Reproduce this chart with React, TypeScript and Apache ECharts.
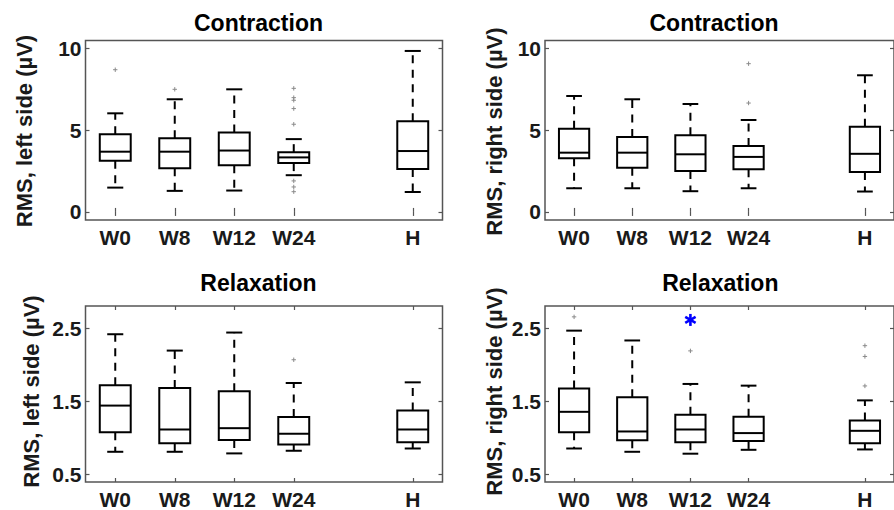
import React, { useEffect, useRef } from "react";
import * as echarts from "echarts";

// ---- data ----
const categories = ["W0", "W8", "W12", "W24", "H"];
const positions = [1, 2, 3, 4, 6];

// [lower whisker, Q1, median, Q3, upper whisker]
const contractionLeft = [
  [1.49, 3.14, 3.69, 4.76, 6.04],
  [1.29, 2.67, 3.69, 4.51, 6.9],
  [1.31, 2.86, 3.76, 4.86, 7.51],
  [2.25, 2.99, 3.34, 3.66, 4.46],
  [1.22, 2.63, 3.73, 5.55, 9.86],
];
const contractionRight = [
  [1.45, 3.29, 3.63, 5.1, 7.1],
  [1.45, 2.71, 3.63, 4.59, 6.9],
  [1.27, 2.51, 3.53, 4.69, 6.61],
  [1.45, 2.61, 3.37, 4.04, 5.63],
  [1.25, 2.45, 3.56, 5.22, 8.37],
];
const relaxationLeft = [
  [0.812, 1.08, 1.442, 1.719, 2.415],
  [0.812, 0.929, 1.116, 1.683, 2.192],
  [0.79, 0.973, 1.134, 1.638, 2.438],
  [0.826, 0.911, 1.058, 1.286, 1.75],
  [0.857, 0.942, 1.116, 1.375, 1.759],
];
const relaxationRight = [
  [0.857, 1.08, 1.357, 1.674, 2.464],
  [0.812, 0.969, 1.089, 1.554, 2.33],
  [0.786, 0.942, 1.116, 1.317, 1.737],
  [0.839, 0.96, 1.067, 1.29, 1.714],
  [0.844, 0.929, 1.098, 1.237, 1.513],
];

// outliers: [position, value]
const contractionLeftOutliers = [
  [1, 8.71], [2, 7.51],
  [4, 7.57], [4, 7.0], [4, 6.84], [4, 6.33], [4, 5.37], [4, 1.9], [4, 1.53], [4, 1.24],
];
const contractionRightOutliers = [[4, 9.08], [4, 6.67]];
const relaxationLeftOutliers = [[4, 2.067]];
const relaxationRightOutliers = [[1, 2.652], [3, 2.188], [6, 2.259], [6, 2.112], [6, 1.71]];
const significanceMarks = [[3, 2.61]];

const contractionTicks = [0, 5, 10];
const relaxationTicks = [0.5, 1.5, 2.5];

const panelTitles = ["Contraction", "Contraction", "Relaxation", "Relaxation"];
const yAxisNames = [
  "RMS, left side (µV)",
  "RMS, right side (µV)",
  "RMS, left side (µV)",
  "RMS, right side (µV)",
];

// ---- rendering ----
const FONT = "'Liberation Sans', Arial, sans-serif";
const AXIS_COLOR = "#555555";

function boxRenderItem(params: any, api: any) {
  const x = api.value(0);
  const lo = api.value(1);
  const q1 = api.value(2);
  const med = api.value(3);
  const q3 = api.value(4);
  const hi = api.value(5);
  const cx = api.coord([x, med])[0];
  const yLo = api.coord([x, lo])[1];
  const yQ1 = api.coord([x, q1])[1];
  const yMed = api.coord([x, med])[1];
  const yQ3 = api.coord([x, q3])[1];
  const yHi = api.coord([x, hi])[1];
  const halfW = api.size([0.26, 0])[0];
  const capW = api.size([0.135, 0])[0];
  const solid = { stroke: "#000", lineWidth: 2, fill: "none" };
  const dashed = { stroke: "#000", lineWidth: 2, lineDash: [8, 6.5] };
  return {
    type: "group",
    children: [
      { type: "rect", shape: { x: cx - halfW, y: yQ3, width: halfW * 2, height: yQ1 - yQ3 }, style: { ...solid, fill: "transparent" } },
      { type: "line", shape: { x1: cx - halfW, y1: yMed, x2: cx + halfW, y2: yMed }, style: solid },
      { type: "line", shape: { x1: cx, y1: yQ3, x2: cx, y2: yHi }, style: dashed },
      { type: "line", shape: { x1: cx, y1: yQ1, x2: cx, y2: yLo }, style: dashed },
      { type: "line", shape: { x1: cx - capW, y1: yHi, x2: cx + capW, y2: yHi }, style: solid },
      { type: "line", shape: { x1: cx - capW, y1: yLo, x2: cx + capW, y2: yLo }, style: solid },
    ],
  };
}

function plusRenderItem(params: any, api: any) {
  const p = api.coord([api.value(0), api.value(1)]);
  const r = 2.2;
  const st = { stroke: "#8a8a8a", lineWidth: 1 };
  return {
    type: "group",
    children: [
      { type: "line", shape: { x1: p[0] - r, y1: p[1], x2: p[0] + r, y2: p[1] }, style: st },
      { type: "line", shape: { x1: p[0], y1: p[1] - r, x2: p[0], y2: p[1] + r }, style: st },
    ],
  };
}

function starRenderItem(params: any, api: any) {
  const p = api.coord([api.value(0), api.value(1)]);
  const r = 6;
  const st = { stroke: "#0000ff", lineWidth: 2.6 };
  const children = [90, 30, -30].map((deg) => {
    const a = (deg * Math.PI) / 180;
    const dx = r * Math.cos(a);
    const dy = r * Math.sin(a);
    return { type: "line", shape: { x1: p[0] - dx, y1: p[1] - dy, x2: p[0] + dx, y2: p[1] + dy }, style: st };
  });
  return { type: "group", children };
}

const grids = [
  { left: 85.5, top: 40.5, width: 357, height: 179.6 },
  { left: 545, top: 40.5, width: 356, height: 179.6 },
  { left: 85.5, top: 306, width: 357, height: 178.5 },
  { left: 545, top: 306, width: 356, height: 178.5 },
];

const titlePos = [
  [258.5, 22.7],
  [714, 22.7],
  [258.5, 283.3],
  [720.3, 283.3],
];
const namePos = [
  [24, 131],
  [494, 131.5],
  [31, 391.5],
  [494, 391.5],
];

function buildOption() {
  const boxSets = [contractionLeft, contractionRight, relaxationLeft, relaxationRight];
  const outlierSets = [contractionLeftOutliers, contractionRightOutliers, relaxationLeftOutliers, relaxationRightOutliers];
  const xAxis: any[] = [];
  const yAxis: any[] = [];
  const series: any[] = [];
  const tickStyle = { color: AXIS_COLOR, width: 1.2 };
  const labelStyle = { fontFamily: FONT, fontWeight: "bold", fontSize: 21, color: "#1a1a1a" };

  grids.forEach((g, i) => {
    const isContraction = i < 2;
    const yTicks = isContraction ? contractionTicks : relaxationTicks;
    const yMin = isContraction ? -0.5 : 0.4;
    const yMax = isContraction ? 10.5 : 2.8;
    ["bottom", "top"].forEach((pos) => {
      xAxis.push({
        gridIndex: i,
        type: "value",
        position: pos,
        min: 0.5,
        max: 6.5,
        axisLine: { show: false },
        splitLine: { show: false },
        axisTick: { show: true, inside: true, length: 4, customValues: positions, lineStyle: tickStyle },
        axisLabel: {
          show: pos === "bottom",
          customValues: positions,
          margin: 7,
          formatter: (v: number) => categories[positions.indexOf(v)] ?? "",
          ...labelStyle,
        },
      });
    });
    ["left", "right"].forEach((pos) => {
      yAxis.push({
        gridIndex: i,
        type: "value",
        position: pos,
        min: yMin,
        max: yMax,
        axisLine: { show: false },
        splitLine: { show: false },
        axisTick: { show: true, inside: true, length: 4, customValues: yTicks, lineStyle: tickStyle },
        axisLabel: {
          show: pos === "left",
          customValues: yTicks,
          margin: 4,
          formatter: (v: number) => (isContraction ? String(v) : v.toFixed(1)),
          ...labelStyle,
        },
      });
    });
    const boxData = boxSets[i].map((s, k) => [positions[k], ...s]);
    series.push({
      type: "custom",
      xAxisIndex: 2 * i,
      yAxisIndex: 2 * i,
      renderItem: boxRenderItem,
      encode: { x: 0, y: [1, 2, 3, 4, 5] },
      data: boxData,
      z: 3,
    });
    series.push({
      type: "custom",
      xAxisIndex: 2 * i,
      yAxisIndex: 2 * i,
      renderItem: plusRenderItem,
      encode: { x: 0, y: 1 },
      data: outlierSets[i],
      z: 3,
    });
  });
  series.push({
    type: "custom",
    xAxisIndex: 6,
    yAxisIndex: 6,
    renderItem: starRenderItem,
    encode: { x: 0, y: 1 },
    data: significanceMarks,
    z: 4,
  });

  const graphic: any[] = [];
  panelTitles.forEach((t, i) => {
    graphic.push({
      type: "text",
      x: titlePos[i][0],
      y: titlePos[i][1],
      style: {
        text: t,
        fontFamily: FONT,
        fontWeight: "bold",
        fontSize: 23,
        fill: "#000",
        textAlign: "center",
        textVerticalAlign: "middle",
      },
    });
  });
  yAxisNames.forEach((t, i) => {
    graphic.push({
      type: "text",
      x: namePos[i][0],
      y: namePos[i][1],
      rotation: Math.PI / 2,
      style: {
        text: t,
        fontFamily: FONT,
        fontWeight: "bold",
        fontSize: 22,
        fill: "#1a1a1a",
        textAlign: "center",
        textVerticalAlign: "middle",
      },
    });
  });

  return {
    animation: false,
    backgroundColor: "#ffffff",
    grid: grids.map((g) => ({ ...g, show: true, borderColor: AXIS_COLOR, borderWidth: 1.5, backgroundColor: "transparent" })),
    xAxis,
    yAxis,
    series,
    graphic,
  };
}

export default function App() {
  const ref = useRef<HTMLDivElement>(null);
  useEffect(() => {
    if (!ref.current) return;
    const chart = echarts.init(ref.current, undefined, { renderer: "svg" });
    chart.setOption(buildOption() as any);
    return () => chart.dispose();
  }, []);
  return (
    <div
      ref={ref}
      style={{ position: "absolute", left: 0, top: 0, width: 894, height: 510, background: "#fff" }}
    />
  );
}
